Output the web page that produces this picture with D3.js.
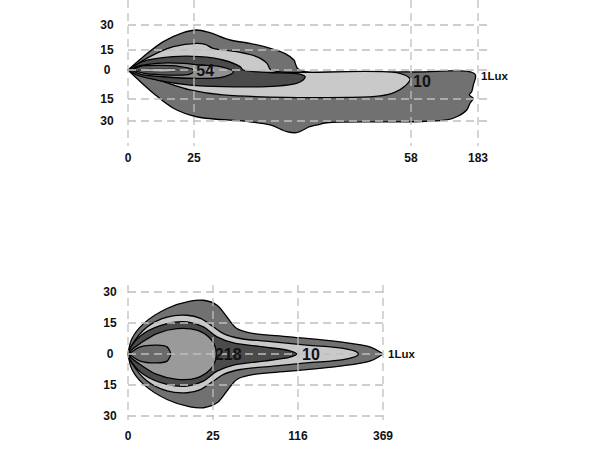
<!DOCTYPE html>
<html>
<head>
<meta charset="utf-8">
<script src="https://cdn.jsdelivr.net/npm/d3@7"></script>
<style>
  html, body { margin: 0; padding: 0; background: #fff; }
  svg { display: block; }
  text { font-family: "Liberation Sans", Arial, sans-serif; font-weight: bold; fill: #111; }
</style>
</head>
<body>
<svg id="chart" width="610" height="450"></svg>
<script>
// ---------- DATA ----------
// Top chart (spot pattern): axis ticks
const topXTicks = [0, 25, 58, 183];
const topYTicks = [30, 15, 0, -15, -30];
// Bottom chart (flood pattern): axis ticks
const botXTicks = [0, 25, 116, 369];
const botYTicks = [30, 15, 0, -15, -30];

// Top chart isolux contours [distance, lateral]
const top1Lux = [[0,0],[5.8,10],[13.4,20],[20.9,25.4],[25.4,27],[27.4,25.4],[30.5,21],[33.5,19],[36.6,16],[38.8,12.5],[40.2,7.5],[40.9,0.5],
  [57.8,-1.0],[177.4,-2.1],[174.2,-7.8],[171.2,-11.2],[166.7,-12.9],[174.2,-14.6],[168.1,-17.9],[161.9,-22.5],[143.3,-27.1],[124.6,-29.3],
  [57.85,-30.5],[45.2,-31.2],[43.7,-32.7],[42.6,-33.9],[40.6,-37.9],[39.1,-37.2],[36.6,-32.7],[33.5,-30.5],[25.4,-27.1],[17.2,-21.3],[9.6,-12.0],[3.3,-4.3],[0,0]];
const top10Lux = [[0,0],[8.3,10],[17.2,17],[25.4,19],[26.7,18.4],[27.9,16],[31.5,13.7],[34.5,10],[36.1,5],[36.6,0.5],
  [38.1,-1.0],[56.3,-1.7],[57.85,-4.7],[57.1,-8.3],[55.6,-11.4],[53.3,-13.4],[48.7,-14.2],[29.4,-12.9],[23.5,-10.3],[13.4,-6.0],[5.8,-2.6],[0,0]];
const topMid = [[0.5,0],[5.4,6.2],[17.0,10],[25.9,10],[29.4,7.5],[32.0,2.5],[32.5,0],[36.6,-1.3],[41.1,-2.1],[41.9,-3.5],[41.6,-5.2],
  [40.6,-6.9],[37.6,-8.3],[29.4,-8.6],[23.5,-7.8],[10.9,-5.2],[3.3,-2.6],[0.5,0]];
const top54Lux = [[1.5,0],[3.3,2.5],[10.9,5],[20.9,5],[25.9,3.75],[29.0,2.5],[31.0,-0.9],[29.5,-3.5],[25.4,-4.3],[13.4,-3.5],[4.5,-2.1],[1.5,0]];
const topCore = [[1.9,0],[4.5,2.6],[12.1,3.4],[19.7,2.6],[24.2,0.75],[25,-0.5],[23.5,-2.1],[15.9,-2.6],[6.4,-1.8],[1.9,0]];
const topHot = [[3.8,0],[10,0.9],[17,0.7],[19,0],[17,-0.7],[10,-0.9],[3.8,0]];

// Bottom chart contours: upper half profile [distance, half-width], mirrored
const bot1Lux = [[0,0],[1.18,7.5],[4.59,14.7],[11.47,22.0],[18.3,25.6],[22.2,26.0],[29.3,23.6],[39.9,17.9],[50.6,12.3],[64.8,10.2],[107,8.3],[241,5.9],[330,3.45],[360,1.0],[368,0]];
const bot10Lux = [[0,0],[1.0,4.0],[5.6,13.1],[11.5,17.9],[17.4,18.75],[21.3,17.2],[25.6,13.1],[36.3,9.9],[54.1,7.5],[89.6,5.9],[141.9,4.3],[250.8,2.7],[290.7,1.0],[295.5,0]];
const botMid = [[0,0],[0.8,3.3],[4.6,9.9],[11.5,14.7],[17.4,15.5],[22.2,13.1],[29.3,8.3],[47.0,5.4],[79.0,3.45],[107.5,1.5],[114.6,0]];
const bot218Lux = [[0,0],[1.0,1.9],[3.6,5.1],[8.5,9.9],[14.4,12.3],[20.3,11.5],[24.2,7.5],[27.45,3.45],[28.5,0]];
const botCore = [[0,0],[1.0,0.9],[3.6,3.45],[8.5,4.3],[11.5,3.45],[12.4,1.0],[12.6,0]];

// Contour value labels [text, distance, lateral]
const topLabels = [["54", 26.7, -0.5], ["10", 78.5, -5.7]];
const topEndLabel = ["1Lux", 188.6, -3.1];
const botLabels = [["218", 41.3, 0], ["10", 154.7, 0]];
const botEndLabel = ["1Lux", 384, 0];

// ---------- DRAW ----------
const svg = d3.select("#chart");
const C_OUT = "#717171", C_LIGHT = "#c9c9c9", C_DARK = "#4b4b4b", C_MED = "#909090", C_CORE = "#5a5a5a", C_HOT = "#bdbdbd";
const GRID = "#bfbfbf";

function mirror(profile) {
  const upper = profile.map(d => [d[0], d[1]]);
  const lower = profile.slice(0, -1).reverse().map(d => [d[0], -d[1]]);
  return upper.concat(lower);
}

function drawChart(g, cfg) {
  const x = d3.scaleLinear().domain(cfg.xTicks).range(cfg.xRange);
  const y = d3.scaleLinear().domain(cfg.yDomain).range(cfg.yRange);
  const line = d3.line().x(d => x(d[0])).y(d => y(d[1])).curve(d3.curveCatmullRom.alpha(0.5));

  const shapes = g.append("g");
  cfg.layers.forEach(l => {
    shapes.append("path")
      .attr("d", line(l.pts) + "Z")
      .attr("fill", l.fill)
      .attr("stroke", "#000")
      .attr("stroke-width", l.sw || 1.3)
      .attr("stroke-linejoin", "round");
  });

  // grid (drawn above shapes)
  const grid = g.append("g").attr("stroke", GRID).attr("stroke-width", 1.3).attr("stroke-dasharray", "8,5").attr("fill", "none");
  grid.selectAll("line.h").data(cfg.yTicks).enter().append("line")
    .attr("x1", x(cfg.xTicks[0])).attr("x2", cfg.hEnd)
    .attr("y1", d => y(d)).attr("y2", d => y(d));
  grid.selectAll("line.v").data(cfg.xTicks).enter().append("line")
    .attr("x1", d => x(d)).attr("x2", d => x(d))
    .attr("y1", cfg.vTop).attr("y2", cfg.vBot);

  // axis labels
  g.append("g").selectAll("text").data(cfg.xTicks).enter().append("text")
    .attr("x", d => x(d)).attr("y", cfg.xLabelY)
    .attr("text-anchor", "middle").attr("dominant-baseline", "central")
    .attr("font-size", 12).text(d => d);
  g.append("g").selectAll("text").data(cfg.yTicks).enter().append("text")
    .attr("x", cfg.yLabelX).attr("y", d => y(d))
    .attr("text-anchor", "middle").attr("dominant-baseline", "central")
    .attr("font-size", 12).text(d => Math.abs(d));

  // contour labels
  g.append("g").selectAll("text").data(cfg.labels).enter().append("text")
    .attr("x", d => x(d[1])).attr("y", d => y(d[2]))
    .attr("text-anchor", "middle").attr("dominant-baseline", "central")
    .attr("font-size", 16).attr("fill", "#111").text(d => d[0]);
  g.append("text")
    .attr("x", x(cfg.endLabel[1])).attr("y", y(cfg.endLabel[2]))
    .attr("text-anchor", "start").attr("dominant-baseline", "central")
    .attr("font-size", 11.5).text(cfg.endLabel[0]);
}

drawChart(svg.append("g"), {
  xTicks: topXTicks, xRange: [128, 194, 411, 478],
  yTicks: topYTicks, yDomain: [30, 15, 0, -15, -30], yRange: [25, 50, 70, 99, 121],
  hEnd: 490, vTop: 0, vBot: 146, xLabelY: 158, yLabelX: 107,
  layers: [
    {pts: top1Lux, fill: C_OUT},
    {pts: top10Lux, fill: C_LIGHT},
    {pts: topMid, fill: C_DARK},
    {pts: top54Lux, fill: C_MED},
    {pts: topCore, fill: C_CORE},
    {pts: topHot, fill: C_HOT, sw: 0.5}
  ],
  labels: topLabels, endLabel: topEndLabel
});

drawChart(svg.append("g"), {
  xTicks: botXTicks, xRange: [128, 213, 298, 383],
  yTicks: botYTicks, yDomain: [30, -30], yRange: [292, 416],
  hEnd: 388, vTop: 285, vBot: 420, xLabelY: 436, yLabelX: 110,
  layers: [
    {pts: mirror(bot1Lux), fill: C_OUT},
    {pts: mirror(bot10Lux), fill: C_LIGHT},
    {pts: mirror(botMid), fill: C_DARK},
    {pts: mirror(bot218Lux), fill: "#9a9a9a"},
    {pts: mirror(botCore), fill: "#6a6a6a"}
  ],
  labels: botLabels, endLabel: botEndLabel
});
</script>
</body>
</html>
